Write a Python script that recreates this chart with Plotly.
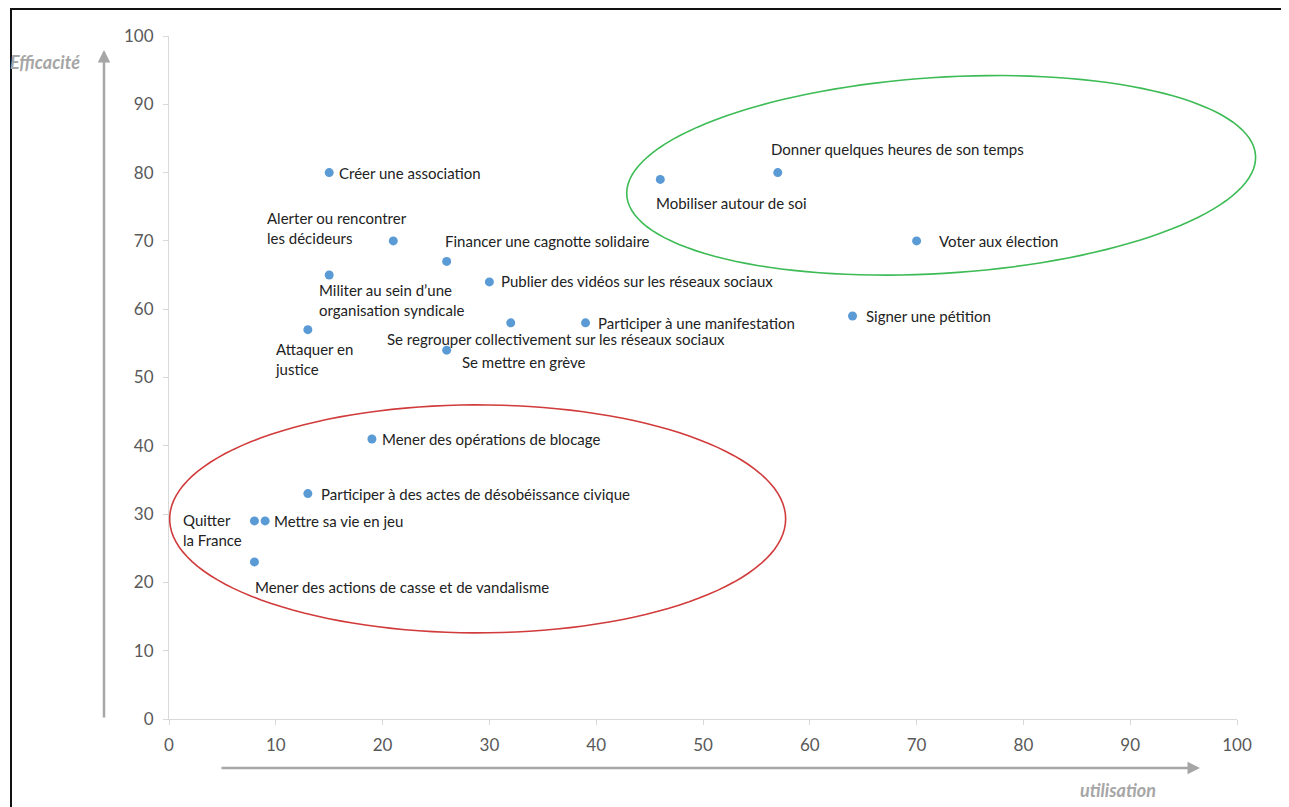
import numpy as np
import plotly.graph_objects as go

# ---- data ----
actions = [
    "Créer une association",
    "Alerter ou rencontrer<br>les décideurs",
    "Financer une cagnotte solidaire",
    "Militer au sein d’une<br>organisation syndicale",
    "Publier des vidéos sur les réseaux sociaux",
    "Attaquer en<br>justice",
    "Se regrouper collectivement sur les réseaux sociaux",
    "Participer à une manifestation",
    "Se mettre en grève",
    "Signer une pétition",
    "Mobiliser autour de soi",
    "Donner quelques heures de son temps",
    "Voter aux élection",
    "Mener des opérations de blocage",
    "Participer à des actes de désobéissance civique",
    "Quitter<br>la France",
    "Mettre sa vie en jeu",
    "Mener des actions de casse et de vandalisme",
]
utilisation = [15, 21, 26, 15, 30, 13, 32, 39, 26, 64, 46, 57, 70, 19, 13, 8, 9, 8]
efficacite = [80, 70, 67, 65, 64, 57, 58, 58, 54, 59, 79, 80, 70, 41, 33, 29, 29, 23]
tick_vals = [0, 10, 20, 30, 40, 50, 60, 70, 80, 90, 100]

# ---- label placement (pixel offsets: left edge of text, vertical centre) ----
label_offsets = [
    (9, 0), (-127, 13), (-3, 20), (-11, -25), (11, 1), (-34, -29),
    (-125, -16), (11, 0), (14, -12), (12, 0), (-5, -24), (-8, 24),
    (21, 0), (9, 0), (12, 0), (-72, -9), (8, 0), (0, -25),
]

# ---- layout geometry (page body adds an 8px offset) ----
OFF = 8
W, H = 1289 - OFF, 807 - OFF
PW, PH = 1068, 683
ML, MT = 169 - OFF, 36 - OFF
MR, MB = W - ML - PW, H - MT - PH
PX_X = PW / 100.0
PX_Y = PH / 100.0


def px_to_paper_x(px):
    return (px - OFF - ML) / PW


def px_to_paper_y(py):
    return (MT + PH - (py - OFF)) / PH


FONT = "Lato, Carlito, sans-serif"

fig = go.Figure()
fig.add_trace(go.Scatter(
    x=utilisation, y=efficacite, mode="markers",
    marker=dict(color="#5b9bd5", size=9),
    hoverinfo="text", text=actions, showlegend=False,
))

annotations = []
for name, xv, yv, (dx, dy) in zip(actions, utilisation, efficacite, label_offsets):
    annotations.append(dict(
        x=xv, y=yv, xref="x", yref="y", text=name, showarrow=False,
        xanchor="left", yanchor="middle", align="left",
        xshift=dx - 1, yshift=dy,
        font=dict(family=FONT, size=15, color="#222222"),
    ))

# axis arrows
annotations.append(dict(
    x=px_to_paper_x(104), y=px_to_paper_y(50), xref="paper", yref="paper",
    ax=0, ay=669, showarrow=True, arrowhead=2, arrowsize=1, arrowwidth=2.5,
    arrowcolor="#a6a6a6", text="",
))
annotations.append(dict(
    x=px_to_paper_x(1200), y=px_to_paper_y(768), xref="paper", yref="paper",
    ax=-980, ay=0, showarrow=True, arrowhead=2, arrowsize=1, arrowwidth=2.5,
    arrowcolor="#a6a6a6", text="",
))
annotations.append(dict(
    x=px_to_paper_x(45), y=px_to_paper_y(62), xref="paper", yref="paper",
    text="Efficacité", showarrow=False, xanchor="center", yanchor="middle",
    font=dict(family=FONT, size=18, color="#a6a6a6", style="italic", weight="bold"),
))
annotations.append(dict(
    x=px_to_paper_x(1118), y=px_to_paper_y(790), xref="paper", yref="paper",
    text="utilisation", showarrow=False, xanchor="center", yanchor="middle",
    font=dict(family=FONT, size=18, color="#a6a6a6", style="italic", weight="bold"),
))


def ellipse_path(cx, cy, a_px, b_px, angle_deg, n=140):
    # centre given in data units; drawn in paper units (axes span 0..100)
    t = np.linspace(0, 2 * np.pi, n)
    th = np.deg2rad(angle_deg)
    ex = a_px * np.cos(t)
    ey = b_px * np.sin(t)
    rx = ex * np.cos(th) - ey * np.sin(th)
    ry = ex * np.sin(th) + ey * np.cos(th)
    xs = (cx + rx / PX_X) / 100.0
    ys = (cy + ry / PX_Y) / 100.0
    pts = [f"{x:.5f},{y:.5f}" for x, y in zip(xs, ys)]
    return "M " + " L ".join(pts) + " Z"


shapes = [
    dict(type="path", xref="paper", yref="paper",
         path=ellipse_path(72.3, 79.6, 315, 98, 3.6),
         line=dict(color="#3dbb55", width=1.6)),
    dict(type="path", xref="paper", yref="paper",
         path=ellipse_path(28.9, 29.3, 308, 114, 0),
         line=dict(color="#d13b3b", width=1.6)),
    # frame
    dict(type="line", xref="paper", yref="paper",
         x0=px_to_paper_x(11), x1=px_to_paper_x(11),
         y0=px_to_paper_y(9), y1=px_to_paper_y(812),
         line=dict(color="#111111", width=2)),
    dict(type="line", xref="paper", yref="paper",
         x0=px_to_paper_x(10), x1=px_to_paper_x(1295),
         y0=px_to_paper_y(9), y1=px_to_paper_y(9),
         line=dict(color="#111111", width=2)),
]

axis_common = dict(
    range=[0, 100], tickvals=tick_vals, showgrid=False, zeroline=False,
    showline=True, linecolor="#d9d9d9", linewidth=1,
    ticks="outside", ticklen=5, tickcolor="#d9d9d9",
    tickfont=dict(family=FONT, size=17, color="#595959"),
    ticklabelstandoff=6,
    fixedrange=True,
)

fig.update_layout(
    width=W, height=H,
    margin=dict(l=ML, r=MR, t=MT, b=MB),
    paper_bgcolor="white", plot_bgcolor="white",
    xaxis=dict(**axis_common),
    yaxis=dict(**axis_common),
    annotations=annotations,
    shapes=shapes,
    showlegend=False,
)

fig.write_html("out.html")
